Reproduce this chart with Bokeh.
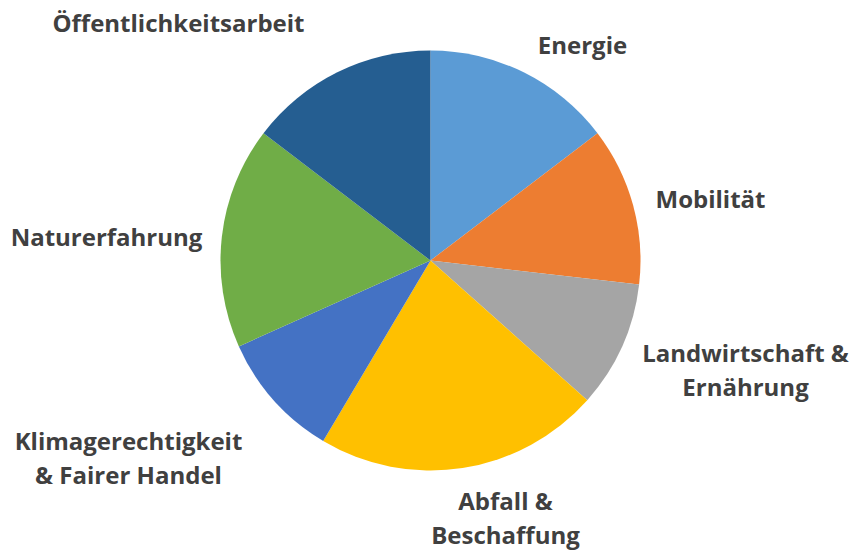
import math
from bokeh.plotting import figure
from bokeh.models import Range1d, ColumnDataSource
from bokeh.core.properties import value
from bokeh.embed import file_html
from bokeh.resources import INLINE

# ---- data ----
categories = ["Energie", "Mobilität", "Landwirtschaft &\nErnährung", "Abfall &\nBeschaffung",
              "Klimagerechtigkeit\n& Fairer Handel", "Naturerfahrung", "Öffentlichkeitsarbeit"]
counts = [6, 5, 4, 9, 4, 7, 6]
colors = ["#5B9BD5", "#ED7D31", "#A5A5A5", "#FFC000", "#4472C4", "#70AD47", "#255E91"]

# ---- layout (page pixel space, y down) ----
W, H = 853, 551
CX, CY, R = 430, 260, 210
label_centers = [(582, 44), (710, 198), (745, 369), (505, 517), (128, 457), (106, 236), (178, 22)]
LINE_GAP = 34

def py(y):  # page y -> data y
    return H - y

p = figure(width=W, height=H, output_backend="svg", toolbar_location=None,
           x_range=Range1d(0, W), y_range=Range1d(0, H),
           x_axis_location=None, y_axis_location=None, min_border=0)
p.grid.visible = False
p.outline_line_color = None
p.background_fill_color = "white"

total = sum(counts)
starts, ends = [], []
cum = 0.0
for c in counts:
    a0 = math.pi / 2 - 2 * math.pi * cum / total
    cum += c
    a1 = math.pi / 2 - 2 * math.pi * cum / total
    starts.append(a0)
    ends.append(a1)

src = ColumnDataSource(dict(start=starts, end=ends, color=colors, cat=categories, n=counts))
p.wedge(x=CX, y=py(CY), radius=R, start_angle="start", end_angle="end",
        direction="clock", fill_color="color", line_color=None, source=src)

tx, ty, tt = [], [], []
for cat, (lx, ly) in zip(categories, label_centers):
    lines = cat.split("\n")
    n = len(lines)
    for i, ln in enumerate(lines):
        tx.append(lx)
        ty.append(py(ly + (i - (n - 1) / 2) * LINE_GAP))
        tt.append(ln)

p.text(x=tx, y=ty, text=tt, text_font=value("Open Sans"), text_font_style="bold",
       text_font_size="24px", text_color="#404040", text_align="center",
       text_baseline="middle")

open("out.html", "w").write(file_html(p, INLINE))
